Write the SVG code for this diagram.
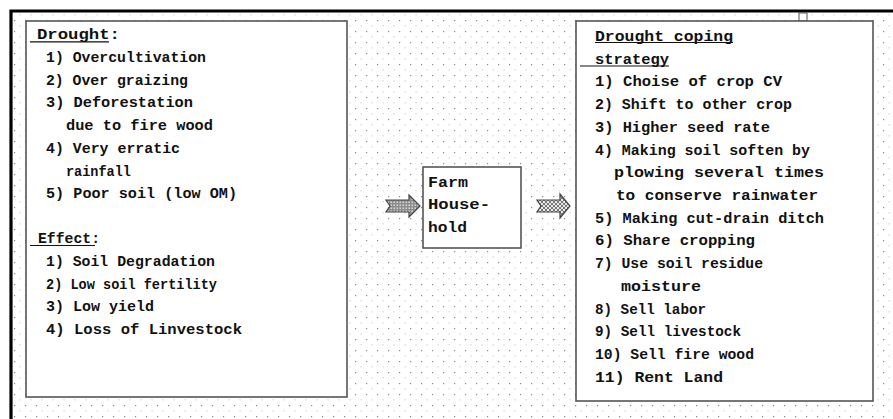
<svg xmlns="http://www.w3.org/2000/svg" width="893" height="419" viewBox="0 0 893 419">
<defs>
<pattern id="grid" x="3" y="9" width="11" height="11" patternUnits="userSpaceOnUse">
<rect x="0" y="0" width="1.2" height="1.2" fill="#8a8a8a"/>
<rect x="5.5" y="5.5" width="1.2" height="0.8" fill="#b0b0b0"/>
</pattern>
<pattern id="dotfill" width="3" height="3" patternUnits="userSpaceOnUse">
<rect width="3" height="3" fill="#8c8c8c"/>
<rect x="0.5" y="0.5" width="1.4" height="1.4" fill="#e6e6e6"/>
</pattern>
<pattern id="hatch" width="4" height="4" patternUnits="userSpaceOnUse">
<rect width="4" height="4" fill="#e8e8e8"/>
<path d="M0,0 L4,4 M4,0 L0,4" stroke="#777" stroke-width="1"/>
</pattern>
</defs>
<style>
.box{fill:#fff;stroke:#555;stroke-width:1.6}
.t{font-family:"Liberation Mono","Courier New",monospace;font-weight:bold;font-size:15px;fill:#111}
.ul{stroke:#111;stroke-width:1.2}
.arrow{stroke:#444;stroke-width:1.2}
</style>
<rect x="0" y="0" width="893" height="419" fill="#fff"/>
<rect x="12" y="12" width="881" height="407" fill="url(#grid)"/>
<path d="M11,419 V11 H893" fill="none" stroke="#000" stroke-width="3.2"/>
<rect x="799" y="13" width="8" height="8" fill="#fff" stroke="#555" stroke-width="1"/>

<g id="causes">
<rect class="box" x="26" y="21" width="321" height="376"/>
<line class="ul" x1="30" y1="41.8" x2="109" y2="41.8"/>
<text class="t" x="37" y="39" textLength="83" lengthAdjust="spacingAndGlyphs">Drought:</text>
<text class="t" x="46" y="61.75" textLength="160" lengthAdjust="spacingAndGlyphs">1) Overcultivation</text>
<text class="t" x="46" y="84.5" textLength="142" lengthAdjust="spacingAndGlyphs">2) Over graizing</text>
<text class="t" x="46" y="107.25" textLength="147" lengthAdjust="spacingAndGlyphs">3) Deforestation</text>
<text class="t" x="66" y="130" textLength="147" lengthAdjust="spacingAndGlyphs">due to fire wood</text>
<text class="t" x="46" y="152.75" textLength="134" lengthAdjust="spacingAndGlyphs">4) Very erratic</text>
<text class="t" x="66" y="175.5" textLength="65" lengthAdjust="spacingAndGlyphs">rainfall</text>
<text class="t" x="46" y="198.25" textLength="191" lengthAdjust="spacingAndGlyphs">5) Poor soil (low OM)</text>
<line class="ul" x1="30" y1="245.5" x2="95" y2="245.5"/>
<text class="t" x="38" y="243" textLength="62" lengthAdjust="spacingAndGlyphs">Effect:</text>
<text class="t" x="46" y="265.75" textLength="169" lengthAdjust="spacingAndGlyphs">1) Soil Degradation</text>
<text class="t" x="46" y="288.5" textLength="171" lengthAdjust="spacingAndGlyphs">2) Low soil fertility</text>
<text class="t" x="46" y="311.25" textLength="108" lengthAdjust="spacingAndGlyphs">3) Low yield</text>
<text class="t" x="46" y="334" textLength="196" lengthAdjust="spacingAndGlyphs">4) Loss of Linvestock</text>
</g>

<g id="farm">
<rect class="box" x="423" y="167" width="98" height="81"/>
<text class="t" x="428" y="186.7" textLength="40" lengthAdjust="spacingAndGlyphs">Farm</text>
<text class="t" x="428" y="209" textLength="62" lengthAdjust="spacingAndGlyphs">House-</text>
<text class="t" x="428" y="231.7" textLength="39" lengthAdjust="spacingAndGlyphs">hold</text>
</g>

<g id="coping">
<rect class="box" x="576" y="21" width="297" height="380"/>
<line class="ul" x1="595" y1="42.5" x2="733" y2="42.5"/>
<line class="ul" x1="580" y1="66" x2="669" y2="66"/>
<text class="t" x="595" y="41" textLength="138" lengthAdjust="spacingAndGlyphs">Drought coping</text>
<text class="t" x="595" y="63.7" textLength="74" lengthAdjust="spacingAndGlyphs">strategy</text>
<text class="t" x="595" y="86.4" textLength="187" lengthAdjust="spacingAndGlyphs">1) Choise of crop CV</text>
<text class="t" x="595" y="109.1" textLength="197" lengthAdjust="spacingAndGlyphs">2) Shift to other crop</text>
<text class="t" x="595" y="131.9" textLength="175" lengthAdjust="spacingAndGlyphs">3) Higher seed rate</text>
<text class="t" x="595" y="154.6" textLength="215" lengthAdjust="spacingAndGlyphs">4) Making soil soften by</text>
<text class="t" x="614" y="177.3" textLength="210" lengthAdjust="spacingAndGlyphs">plowing several times</text>
<text class="t" x="616" y="200" textLength="202" lengthAdjust="spacingAndGlyphs">to conserve rainwater</text>
<text class="t" x="595" y="222.7" textLength="229" lengthAdjust="spacingAndGlyphs">5) Making cut-drain ditch</text>
<text class="t" x="595" y="245.4" textLength="160" lengthAdjust="spacingAndGlyphs">6) Share cropping</text>
<text class="t" x="595" y="268.1" textLength="168" lengthAdjust="spacingAndGlyphs">7) Use soil residue</text>
<text class="t" x="621" y="290.8" textLength="80" lengthAdjust="spacingAndGlyphs">moisture</text>
<text class="t" x="595" y="313.6" textLength="111" lengthAdjust="spacingAndGlyphs">8) Sell labor</text>
<text class="t" x="595" y="336.3" textLength="146" lengthAdjust="spacingAndGlyphs">9) Sell livestock</text>
<text class="t" x="595" y="359" textLength="159" lengthAdjust="spacingAndGlyphs">10) Sell fire wood</text>
<text class="t" x="595" y="381.7" textLength="128" lengthAdjust="spacingAndGlyphs">11) Rent Land</text>
</g>

<g id="connectors">
<path class="arrow" fill="url(#dotfill)" d="M386,200 L409,200 L409,195 L420,206 L409,217 L409,212 L386,212 L390,206 Z"/>
<path class="arrow" fill="url(#hatch)" d="M537,200 L560,200 L560,194 L570,206 L560,218 L560,212 L537,212 L541,206 Z"/>
</g>
</svg>
